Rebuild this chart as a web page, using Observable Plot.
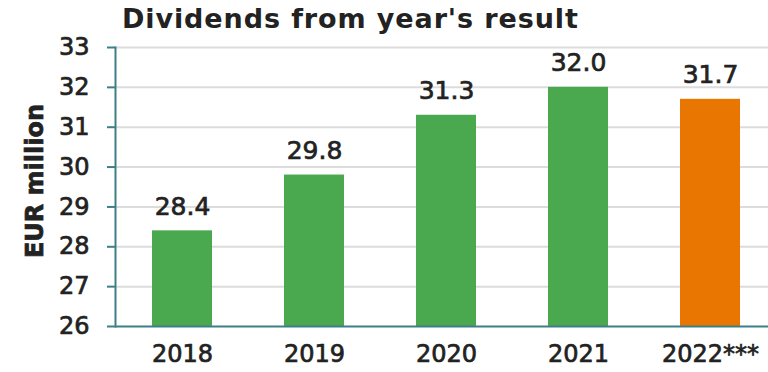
<!DOCTYPE html>
<html>
<head>
<meta charset="utf-8">
<script src="https://cdn.jsdelivr.net/npm/d3@7"></script>
<script src="https://cdn.jsdelivr.net/npm/@observablehq/plot@0.6"></script>
<style>
  html, body { margin: 0; padding: 0; background: #fff; }
  #wrap { position: relative; width: 768px; height: 372px; overflow: hidden; }
  #title { position: absolute; left: 122px; top: 3px; margin: 0; font: bold 27px "DejaVu Sans", sans-serif; color: #222; white-space: nowrap; letter-spacing: 0.9px; }
  #chart { position: absolute; left: 0; top: 0; }
  #chart svg text { stroke: #222; stroke-width: 0.7px; }
</style>
</head>
<body>
<div id="wrap">
  <div id="chart"></div>
  <h2 id="title">Dividends from year's result</h2>
</div>
<script>
const years = ["2018", "2019", "2020", "2021", "2022***"];
const dividends = [28.4, 29.8, 31.3, 32.0, 31.7];
const barColors = ["#4aa84f", "#4aa84f", "#4aa84f", "#4aa84f", "#e97600"];
const yTicks = [26, 27, 28, 29, 30, 31, 32, 33];

const data = years.map((y, i) => ({year: y, value: dividends[i], color: barColors[i]}));
const font = "DejaVu Sans, sans-serif";
const axisColor = "#3c7f86";

const chart = Plot.plot({
  width: 768,
  height: 372,
  marginTop: 47,
  marginBottom: 46,
  marginLeft: 115,
  marginRight: 0,
  style: {fontFamily: font, fontSize: "24px", color: "#222", background: "transparent"},
  x: {domain: years, range: [115, 778], paddingInner: 0.545, paddingOuter: 0.28, label: null},
  y: {domain: [26, 33], label: null},
  marks: [
    Plot.ruleY(yTicks.filter(t => t > 26), {stroke: "#dcdcdc", strokeWidth: 2}),
    Plot.rectY(data, {x: "year", y1: 26, y2: "value", fill: "color"}),
    Plot.text(data, {x: "year", y: "value", text: d => d.value.toFixed(1), dy: -24, fill: "#222", fontSize: 25, fontFamily: font}),
    Plot.frame({anchor: "left", stroke: axisColor, strokeWidth: 2}),
    Plot.axisY(yTicks, {tickSize: 8, tickPadding: 18, stroke: axisColor, strokeWidth: 2, fill: "#222", fontSize: 24, fontFamily: font, label: null}),
    Plot.ruleY([26], {stroke: axisColor, strokeWidth: 2}),
    Plot.axisX({tickSize: 0, tickPadding: 18, fill: "#222", fontSize: 24, fontFamily: font, label: null}),
    Plot.text(["EUR million"], {frameAnchor: "left", textAnchor: "middle", dx: -80, dy: -6, rotate: -90, fontWeight: "bold", fontSize: 24, fill: "#222", fontFamily: font})
  ]
});
document.getElementById("chart").appendChild(chart);
</script>
</body>
</html>
